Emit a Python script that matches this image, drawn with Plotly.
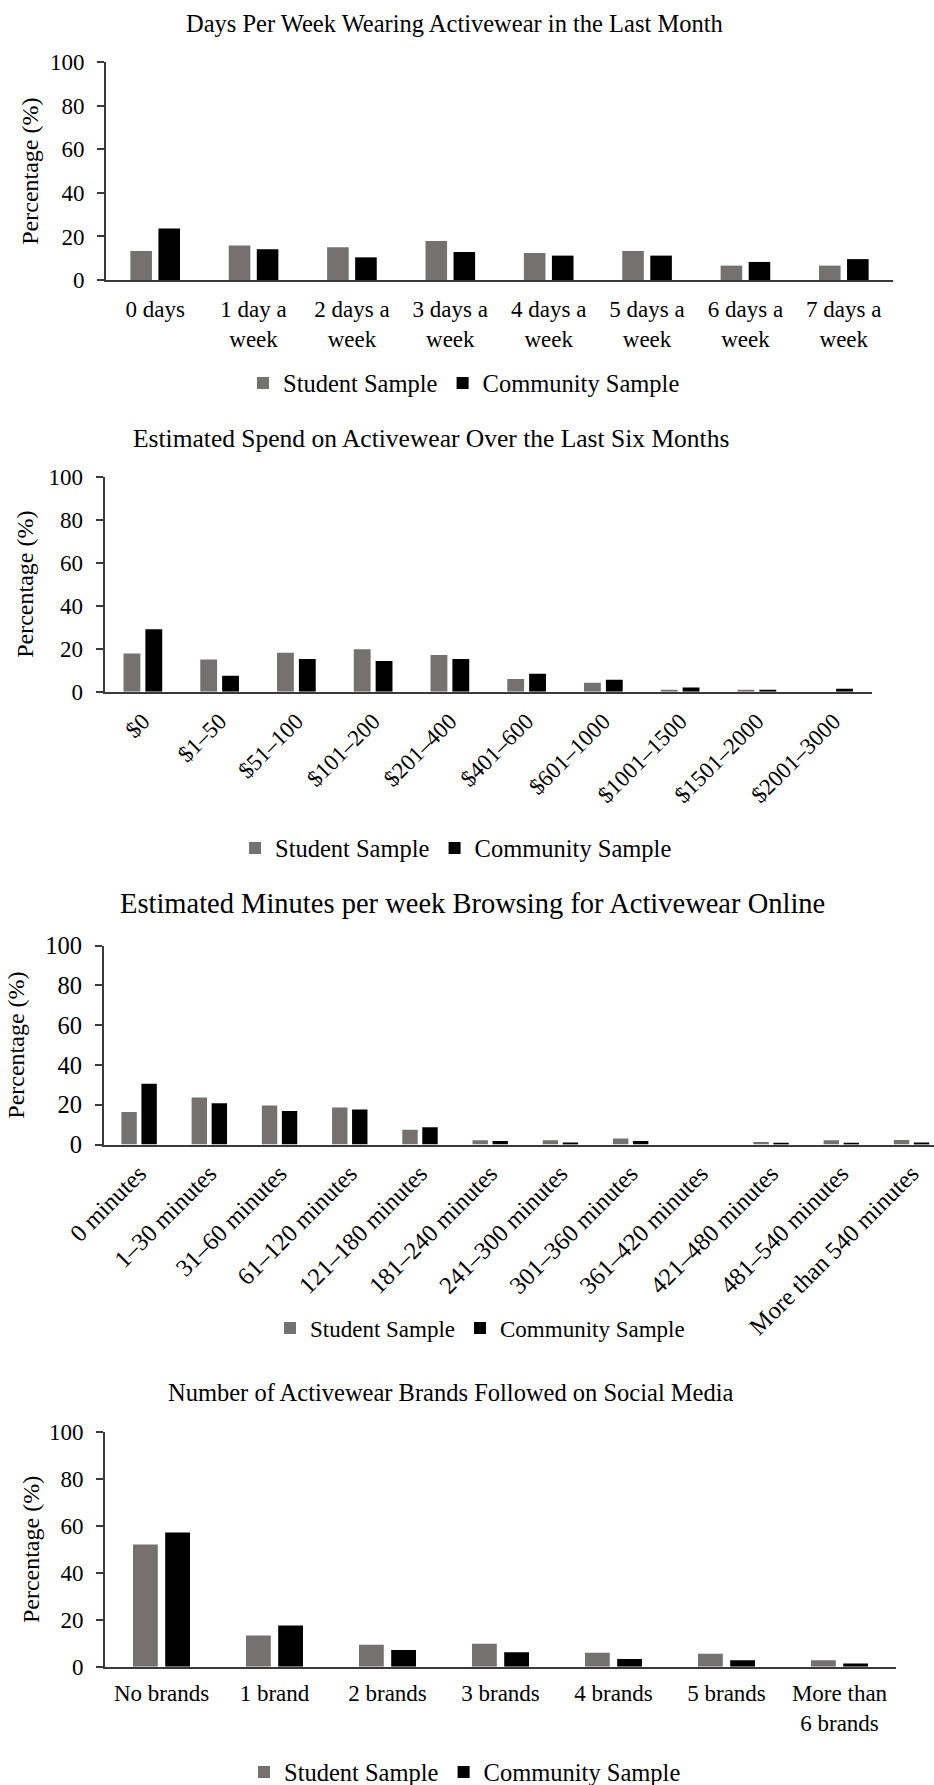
import plotly.graph_objects as go

# ---------------------------------------------------------------- data
days_categories = ["0 days", "1 day a<br>week", "2 days a<br>week", "3 days a<br>week",
                   "4 days a<br>week", "5 days a<br>week", "6 days a<br>week", "7 days a<br>week"]
days_student = [13.3, 15.8, 15.0, 17.9, 12.4, 13.3, 6.6, 6.6]
days_community = [23.7, 14.1, 10.4, 12.9, 11.2, 11.2, 8.3, 9.6]

spend_categories = ["$0", "$1–50", "$51–100", "$101–200", "$201–400", "$401–600",
                    "$601–1000", "$1001–1500", "$1501–2000", "$2001–3000"]
spend_student = [17.8, 15.0, 18.1, 19.8, 17.1, 5.9, 4.2, 0.9, 0.9, 0.0]
spend_community = [29.1, 7.4, 15.2, 14.3, 15.2, 8.3, 5.6, 2.0, 0.9, 1.4]

minutes_categories = ["0 minutes", "1–30 minutes", "31–60 minutes", "61–120 minutes",
                      "121–180 minutes", "181–240 minutes", "241–300 minutes",
                      "301–360 minutes", "361–420 minutes", "421–480 minutes",
                      "481–540 minutes", "More than 540 minutes"]
minutes_student = [16.4, 23.6, 19.6, 18.6, 7.4, 2.2, 2.2, 3.0, 0.0, 1.3, 2.2, 2.3]
minutes_community = [30.5, 20.8, 16.8, 17.6, 8.7, 1.7, 1.0, 1.7, 0.0, 0.7, 0.7, 1.0]

brands_categories = ["No brands", "1 brand", "2 brands", "3 brands", "4 brands",
                     "5 brands", "More than<br>6 brands"]
brands_student = [52.1, 13.3, 9.4, 9.8, 6.0, 5.5, 2.7]
brands_community = [57.3, 17.6, 7.1, 6.2, 3.3, 2.8, 1.4]

y_ticks = [0, 20, 40, 60, 80, 100]
series_names = ["Student Sample", "Community Sample"]

# ---------------------------------------------------------------- style
W, H = 934, 1785
FONT = "Liberation Serif"
STUDENT_COLOR = "#767171"
COMMUNITY_COLOR = "#000000"
AXIS_COLOR = "#3a3a3a"

panels = [
    dict(title="Days Per Week Wearing Activewear in the Last Month",
         cats=days_categories, student=days_student, community=days_community,
         x_px=(106, 893), y_px=(62.3, 280.0), title_xy=(454, 24), title_size=24.5,
         tick_size=23, angle=0, standoff=7, ytitle_standoff=4,
         legend_xy=(464, 383), legend_size=24.5, xrange=None),
    dict(title="Estimated Spend on Activewear Over the Last Six Months",
         cats=spend_categories, student=spend_student, community=spend_community,
         x_px=(104.5, 872), y_px=(476.7, 691.7), title_xy=(431, 438), title_size=25.5,
         tick_size=23, angle=-45, standoff=5, ytitle_standoff=8,
         legend_xy=(456, 848), legend_size=24.5, xrange=None),
    dict(title="Estimated Minutes per week Browsing for Activewear Online",
         cats=minutes_categories, student=minutes_student, community=minutes_community,
         x_px=(104, 934), y_px=(945.7, 1144.5), title_xy=(472, 903), title_size=28.5,
         tick_size=24.5, angle=-45, standoff=3, ytitle_standoff=14,
         legend_xy=(480, 1328), legend_size=23, xrange=[-0.5, 11.32]),
    dict(title="Number of Activewear Brands Followed on Social Media",
         cats=brands_categories, student=brands_student, community=brands_community,
         x_px=(105, 896), y_px=(1432.3, 1666.7), title_xy=(451, 1392), title_size=24.5,
         tick_size=23, angle=0, standoff=5, ytitle_standoff=3,
         legend_xy=(465, 1772), legend_size=24.5, xrange=None),
]

fig = go.Figure()
layout = dict(
    width=W, height=H,
    margin=dict(l=0, r=0, t=0, b=0, pad=0, autoexpand=False),
    paper_bgcolor="white", plot_bgcolor="white",
    font=dict(family=FONT, color="#000000", size=22),
    barmode="group", bargap=0.43, bargroupgap=0.23,
    annotations=[],
)

for i, p in enumerate(panels):
    n = i + 1
    xname = "x" if n == 1 else f"x{n}"
    yname = "y" if n == 1 else f"y{n}"
    legend_name = "legend" if n == 1 else f"legend{n}"

    for name, values, color in ((series_names[0], p["student"], STUDENT_COLOR),
                                (series_names[1], p["community"], COMMUNITY_COLOR)):
        fig.add_trace(go.Bar(
            x=p["cats"], y=values, name=name,
            marker=dict(color=color, line=dict(width=0)),
            xaxis=xname, yaxis=yname, legend=legend_name,
            hovertemplate="%{x}: %{y}%<extra>" + name + "</extra>",
        ))

    x0, x1 = p["x_px"]
    ytop, ybot = p["y_px"]
    xaxis = dict(
        domain=[x0 / W, min(x1 / W, 1.0)],
        anchor=yname, type="category", automargin=False,
        showline=True, linecolor=AXIS_COLOR, linewidth=2,
        ticks="", showgrid=False, zeroline=False,
        tickangle=p["angle"], ticklabelstandoff=p["standoff"],
        tickfont=dict(family=FONT, size=p["tick_size"], color="#000000"),
        fixedrange=True,
    )
    if p["xrange"] is not None:
        xaxis["range"] = p["xrange"]
    yaxis = dict(
        domain=[1 - ybot / H, 1 - ytop / H],
        anchor=xname, range=[0, 100], tickvals=y_ticks, automargin=False,
        showline=True, linecolor=AXIS_COLOR, linewidth=2,
        ticks="outside", ticklen=7, tickwidth=2, tickcolor=AXIS_COLOR,
        showgrid=False, zeroline=False, ticklabelstandoff=8,
        tickfont=dict(family=FONT, size=p["tick_size"], color="#000000"),
        title=dict(text="Percentage (%)", standoff=p["ytitle_standoff"],
                   font=dict(family=FONT, size=24, color="#000000")),
        fixedrange=True,
    )
    layout["xaxis" if n == 1 else f"xaxis{n}"] = xaxis
    layout["yaxis" if n == 1 else f"yaxis{n}"] = yaxis

    lx, ly = p["legend_xy"]
    layout[legend_name] = dict(
        orientation="h", x=lx / W, y=1 - ly / H,
        xanchor="center", yanchor="middle",
        font=dict(family=FONT, size=p["legend_size"], color="#000000"),
        bgcolor="rgba(0,0,0,0)", itemclick=False, itemdoubleclick=False,
    )

    tx, ty = p["title_xy"]
    layout["annotations"].append(dict(
        text=p["title"], xref="paper", yref="paper",
        x=tx / W, y=1 - ty / H, xanchor="center", yanchor="middle",
        showarrow=False, font=dict(family=FONT, size=p["title_size"], color="#000000"),
    ))

fig.update_layout(**layout)
fig.write_html("out.html", config={"displayModeBar": False})
